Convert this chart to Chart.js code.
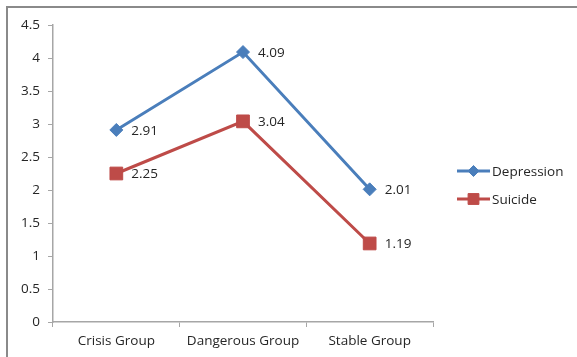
<!DOCTYPE html>
<html>
<head>
<meta charset="utf-8">
<style>
  html, body { margin: 0; padding: 0; background: #fff; }
  #wrap { width: 577px; height: 357px; position: relative; }
</style>
<script src="https://cdn.jsdelivr.net/npm/chart.js@4/dist/chart.umd.min.js"></script>
</head>
<body>
<div id="wrap"><canvas id="c" width="577" height="357"></canvas></div>
<script>
const categories = ['Crisis Group', 'Dangerous Group', 'Stable Group'];
const depression = [2.91, 4.09, 2.01];
const suicide = [2.25, 3.04, 1.19];
const seriesNames = ['Depression', 'Suicide'];
const yTicks = [0, 0.5, 1, 1.5, 2, 2.5, 3, 3.5, 4, 4.5];

const BLUE = '#4A7EBB';
const RED = '#BE4B48';
const AXIS = '#A6A6A6';
const TEXT = '#262626';
const FONT = '"Open Sans", "Liberation Sans", sans-serif';
const FONT_SIZE = 13.5;

// Frame lines along the top and left edge
const framePlugin = {
  id: 'frame',
  beforeDraw(chart) {
    const ctx = chart.ctx;
    ctx.save();
    ctx.strokeStyle = '#8A8A8A';
    ctx.lineWidth = 2;
    ctx.beginPath();
    ctx.moveTo(7, 357);
    ctx.lineTo(7, 7);
    ctx.lineTo(577, 7);
    ctx.stroke();
    ctx.restore();
  }
};

// Value labels to the right of each point
const valueLabels = {
  id: 'valueLabels',
  afterDatasetsDraw(chart) {
    const ctx = chart.ctx;
    ctx.save();
    ctx.font = FONT_SIZE + 'px ' + FONT;
    ctx.fillStyle = TEXT;
    ctx.textAlign = 'left';
    ctx.textBaseline = 'middle';
    chart.data.datasets.forEach((ds, i) => {
      chart.getDatasetMeta(i).data.forEach((pt, j) => {
        ctx.fillText(ds.data[j].toFixed(2), pt.x + 15, pt.y + 1);
      });
    });
    ctx.restore();
  }
};

// Legend with a line segment and marker for each series
const lineLegend = {
  id: 'lineLegend',
  afterDraw(chart) {
    const ctx = chart.ctx;
    const x0 = 457, x1 = 490;
    const rows = [171, 199];
    ctx.save();
    chart.data.datasets.forEach((ds, i) => {
      const y = rows[i];
      ctx.strokeStyle = ds.borderColor;
      ctx.fillStyle = ds.borderColor;
      ctx.lineWidth = 3;
      ctx.beginPath();
      ctx.moveTo(x0, y);
      ctx.lineTo(x1, y);
      ctx.stroke();
      ctx.lineWidth = 1;
      Chart.helpers.drawPoint(ctx, {
        pointStyle: ds.pointStyle,
        radius: ds.pointRadius * 0.85,
        borderWidth: 1
      }, (x0 + x1) / 2, y);
      ctx.fillStyle = TEXT;
      ctx.font = FONT_SIZE + 'px ' + FONT;
      ctx.textAlign = 'left';
      ctx.textBaseline = 'middle';
      ctx.fillText(ds.label, x1 + 2, y + 1);
    });
    ctx.restore();
  }
};

new Chart(document.getElementById('c'), {
  type: 'line',
  data: {
    labels: categories,
    datasets: [
      {
        label: seriesNames[0],
        data: depression,
        borderColor: BLUE,
        backgroundColor: BLUE,
        borderWidth: 3,
        pointStyle: 'rectRot',
        pointRadius: 6.5,
        pointBorderWidth: 1,
        pointBackgroundColor: BLUE,
        pointBorderColor: BLUE,
        tension: 0
      },
      {
        label: seriesNames[1],
        data: suicide,
        borderColor: RED,
        backgroundColor: RED,
        borderWidth: 3,
        pointStyle: 'rect',
        pointRadius: 9,
        pointBorderWidth: 1,
        pointBackgroundColor: RED,
        pointBorderColor: RED,
        tension: 0
      }
    ]
  },
  options: {
    responsive: false,
    animation: false,
    devicePixelRatio: 1,
    layout: { padding: { top: 25, right: 144, bottom: 0, left: 0 } },
    plugins: {
      legend: { display: false },
      tooltip: { enabled: false }
    },
    scales: {
      x: {
        offset: true,
        grid: {
          offset: true,
          drawOnChartArea: false,
          drawTicks: true,
          tickLength: 5,
          color: AXIS
        },
        border: { color: AXIS, width: 1.5 },
        ticks: {
          color: TEXT,
          font: { family: FONT, size: FONT_SIZE },
          padding: 6,
          maxRotation: 0
        },
        afterFit(scale) { scale.height = 35; }
      },
      y: {
        min: 0,
        max: 4.5,
        afterBuildTicks(scale) {
          scale.ticks = yTicks.map(v => ({ value: v }));
        },
        grid: {
          drawOnChartArea: false,
          drawTicks: true,
          tickLength: 5,
          color: AXIS
        },
        border: { color: AXIS, width: 1.5 },
        ticks: {
          color: TEXT,
          font: { family: FONT, size: FONT_SIZE },
          padding: 8,
          callback: v => String(v)
        },
        afterFit(scale) { scale.width = 53; }
      }
    }
  },
  plugins: [framePlugin, valueLabels, lineLegend]
});
</script>
</body>
</html>
